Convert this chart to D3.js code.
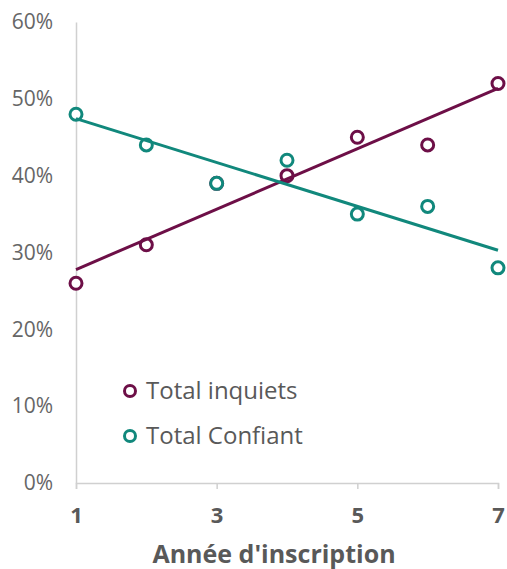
<!DOCTYPE html>
<html><head><meta charset="utf-8">
<script src="https://cdn.jsdelivr.net/npm/d3@7"></script>
<style>body{margin:0;background:#fff;} text{font-family:"Open Sans","Noto Sans",sans-serif;}</style>
</head><body><svg id="c" width="507" height="569"></svg>
<script>
const years = [1,2,3,4,5,6,7];
const inquiets = [0.26,0.31,0.39,0.40,0.45,0.44,0.52];
const confiant = [0.48,0.44,0.39,0.42,0.35,0.36,0.28];
const yTicks = [0,0.1,0.2,0.3,0.4,0.5,0.6];
const xTicks = [1,3,5,7];
const seriesNames = ["Total inquiets","Total Confiant"];
const colors = ["#6d0f47","#11887c"];

const svg = d3.select("#c");
const x = d3.scaleLinear().domain([1,7]).range([76,498]);
const y = d3.scaleLinear().domain([0,0.6]).range([483,22]);

// y axis
const ya = svg.append("g").attr("transform","translate(76,0)")
  .call(d3.axisLeft(y).tickValues(yTicks).tickFormat(d3.format(".0%")).tickSize(0).tickPadding(23));
ya.select(".domain").attr("stroke","#d0d0d0").attr("stroke-width",1.5);
ya.selectAll("text").attr("fill","#666").style("font-size","21px").style("font-family","'Open Sans',sans-serif");

// x axis
const xa = svg.append("g").attr("transform","translate(0,483)")
  .call(d3.axisBottom(x).tickValues(xTicks).tickFormat(d3.format("d")).tickSizeOuter(0).tickSize(6).tickPadding(18));
xa.select(".domain").attr("stroke","#d0d0d0").attr("stroke-width",1.5);
xa.selectAll("line").attr("stroke","#d0d0d0").attr("stroke-width",1.5);
xa.selectAll("text").attr("fill","#595959").style("font-size","22px").style("font-weight","bold").style("font-family","'Open Sans',sans-serif");

svg.append("text").attr("x",274).attr("y",563).attr("text-anchor","middle")
  .attr("fill","#595959").style("font-size","25px").style("font-weight","bold").text("Année d'inscription");

const data = [inquiets, confiant];
function fit(vals){
  const mx = d3.mean(years), my = d3.mean(vals);
  let sxy=0,sxx=0;
  years.forEach((xv,i)=>{sxy+=(xv-mx)*(vals[i]-my);sxx+=(xv-mx)**2;});
  const b=sxy/sxx, a=my-b*mx;
  return [[1,a+b],[7,a+7*b]];
}
data.forEach((vals,si)=>{
  svg.append("g").selectAll("circle").data(vals).join("circle")
    .attr("cx",(d,i)=>x(years[i])).attr("cy",d=>y(d)).attr("r",6)
    .attr("fill","#fff").attr("stroke",colors[si]).attr("stroke-width",3);
});
data.forEach((vals,si)=>{
  const pts = fit(vals);
  svg.append("line").attr("x1",x(pts[0][0])).attr("y1",y(pts[0][1]))
    .attr("x2",x(pts[1][0])).attr("y2",y(pts[1][1]))
    .attr("stroke",colors[si]).attr("stroke-width",3);
});

// legend
seriesNames.forEach((n,i)=>{
  const ly = 391 + i*45;
  svg.append("circle").attr("cx",130).attr("cy",ly).attr("r",5.5)
    .attr("fill","#fff").attr("stroke",colors[i]).attr("stroke-width",3);
  svg.append("text").attr("x",146).attr("y",ly+8).attr("fill","#595959")
    .style("font-size","24px").text(n);
});
</script></body></html>
